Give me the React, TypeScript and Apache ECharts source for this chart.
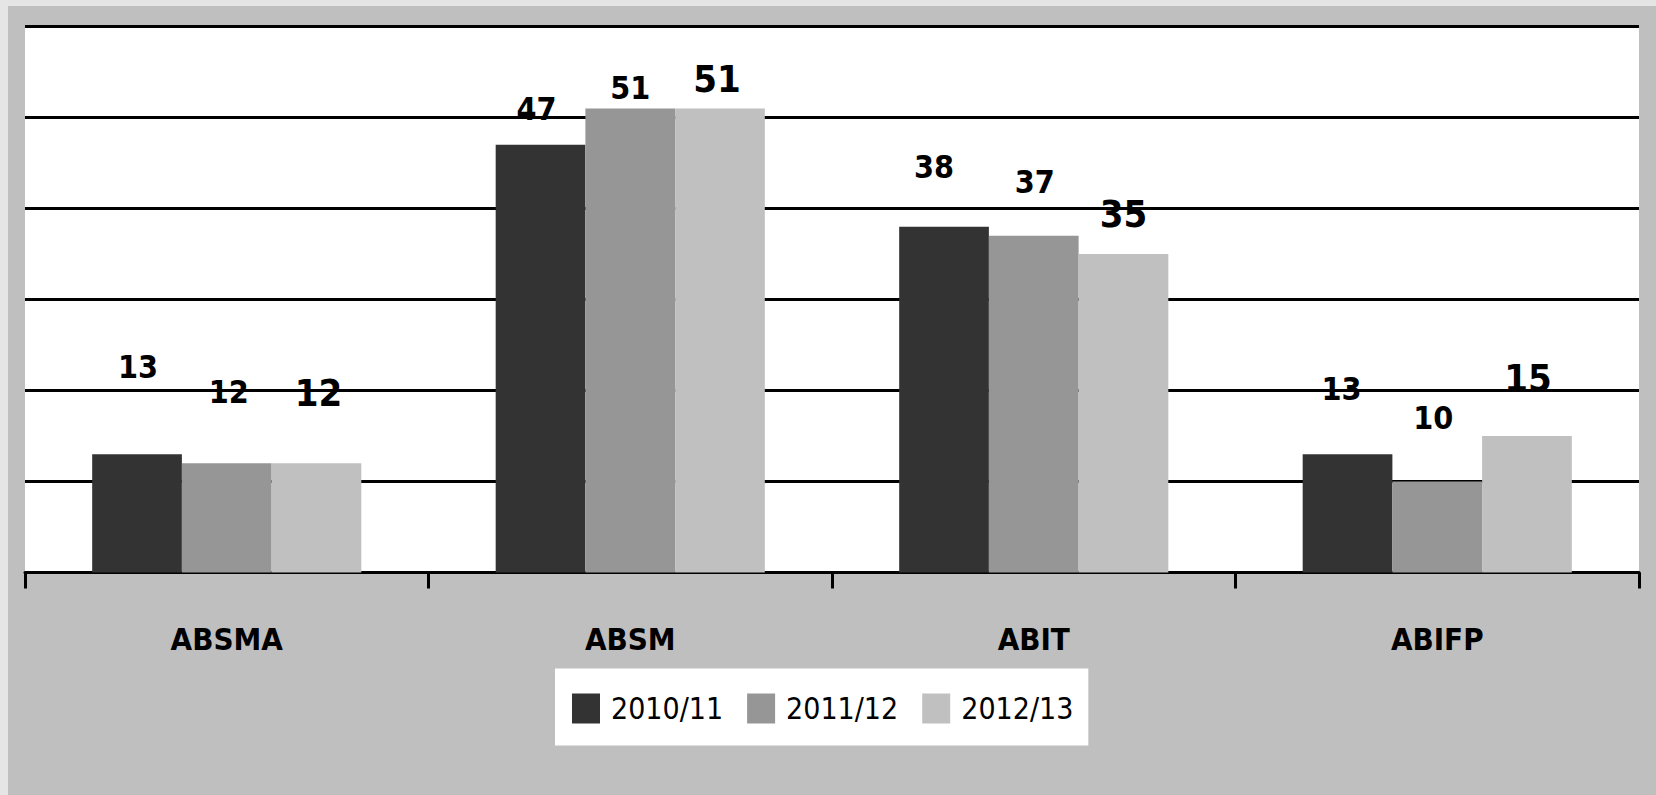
import React, { useEffect, useRef } from "react";
import * as echarts from "echarts";

const categories = ["ABSMA", "ABSM", "ABIT", "ABIFP"];
const seriesNames = ["2010/11", "2011/12", "2012/13"];
const values2010 = [13, 47, 38, 13];
const values2011 = [12, 51, 37, 10];
const values2012 = [12, 51, 35, 15];
const yMin = 0;
const yMax = 60;
const yInterval = 10;

// label styling (how far each value label sits above its bar, and small horizontal nudges)
const labelLift = [
  [87, 36, 60, 65],
  [71, 20, 54, 64],
  [70, 29, 40, 58],
];
const labelShift = [
  [1, -4, -10, -6],
  [2, 0, 1, -4],
  [2, -3, 0, 1],
];
const labelSize = [32, 32, 38];
const colors = ["#333333", "#969696", "#c0c0c0"];
const FONT = "'DejaVu Sans Condensed', 'DejaVu Sans', sans-serif";

export default function App() {
  const ref = useRef<HTMLDivElement>(null);

  useEffect(() => {
    if (!ref.current) return;
    const chart = echarts.init(ref.current, null, { renderer: "svg" });
    const allValues = [values2010, values2011, values2012];
    const series = seriesNames.map((name, s) => ({
      name,
      type: "bar",
      barGap: "0%",
      barCategoryGap: "33.3%",
      itemStyle: { color: colors[s] },
      label: {
        show: true,
        color: "#000",
        fontFamily: FONT,
        fontWeight: "bold",
        fontSize: labelSize[s],
        align: "center",
        verticalAlign: "middle",
      },
      data: allValues[s].map((v, i) => ({
        value: v,
        label: {
          position: ["50%", -labelLift[s][i]],
          offset: [labelShift[s][i], 0],
        },
      })),
    }));

    chart.setOption({
      animation: false,
      backgroundColor: "#bfbfbf",
      grid: {
        left: 17,
        right: 17,
        top: 20.5,
        bottom: 222.5,
        show: true,
        backgroundColor: "#ffffff",
        borderWidth: 0,
      },
      legend: {
        data: seriesNames,
        left: 547,
        top: 662.5,
        icon: "rect",
        itemWidth: 28,
        itemHeight: 30,
        itemGap: 24,
        backgroundColor: "#ffffff",
        padding: [25, 15, 22, 17],
        textStyle: {
          fontFamily: FONT,
          fontSize: 30,
          lineHeight: 30,
          color: "#000",
          padding: [0, 0, 0, 6],
        },
      },
      xAxis: {
        type: "category",
        data: categories,
        axisLine: { show: true, lineStyle: { color: "#000", width: 3 } },
        axisTick: { show: true, length: 16, lineStyle: { color: "#000", width: 3 } },
        axisLabel: {
          color: "#000",
          fontFamily: FONT,
          fontWeight: "bold",
          fontSize: 31,
          lineHeight: 31,
          margin: 51,
        },
      },
      yAxis: {
        type: "value",
        min: yMin,
        max: yMax,
        interval: yInterval,
        axisLabel: { show: false },
        axisLine: { show: false },
        axisTick: { show: false },
        splitLine: { show: true, lineStyle: { color: "#000", width: 3 } },
      },
      series,
    });
    return () => chart.dispose();
  }, []);

  return (
    <div
      style={{
        position: "fixed",
        left: 0,
        top: 0,
        width: 1656,
        height: 795,
        background: "#e5e5e5",
        overflow: "hidden",
      }}
    >
      <div
        ref={ref}
        style={{ position: "absolute", left: 8, top: 6, width: 1648, height: 789 }}
      />
    </div>
  );
}
